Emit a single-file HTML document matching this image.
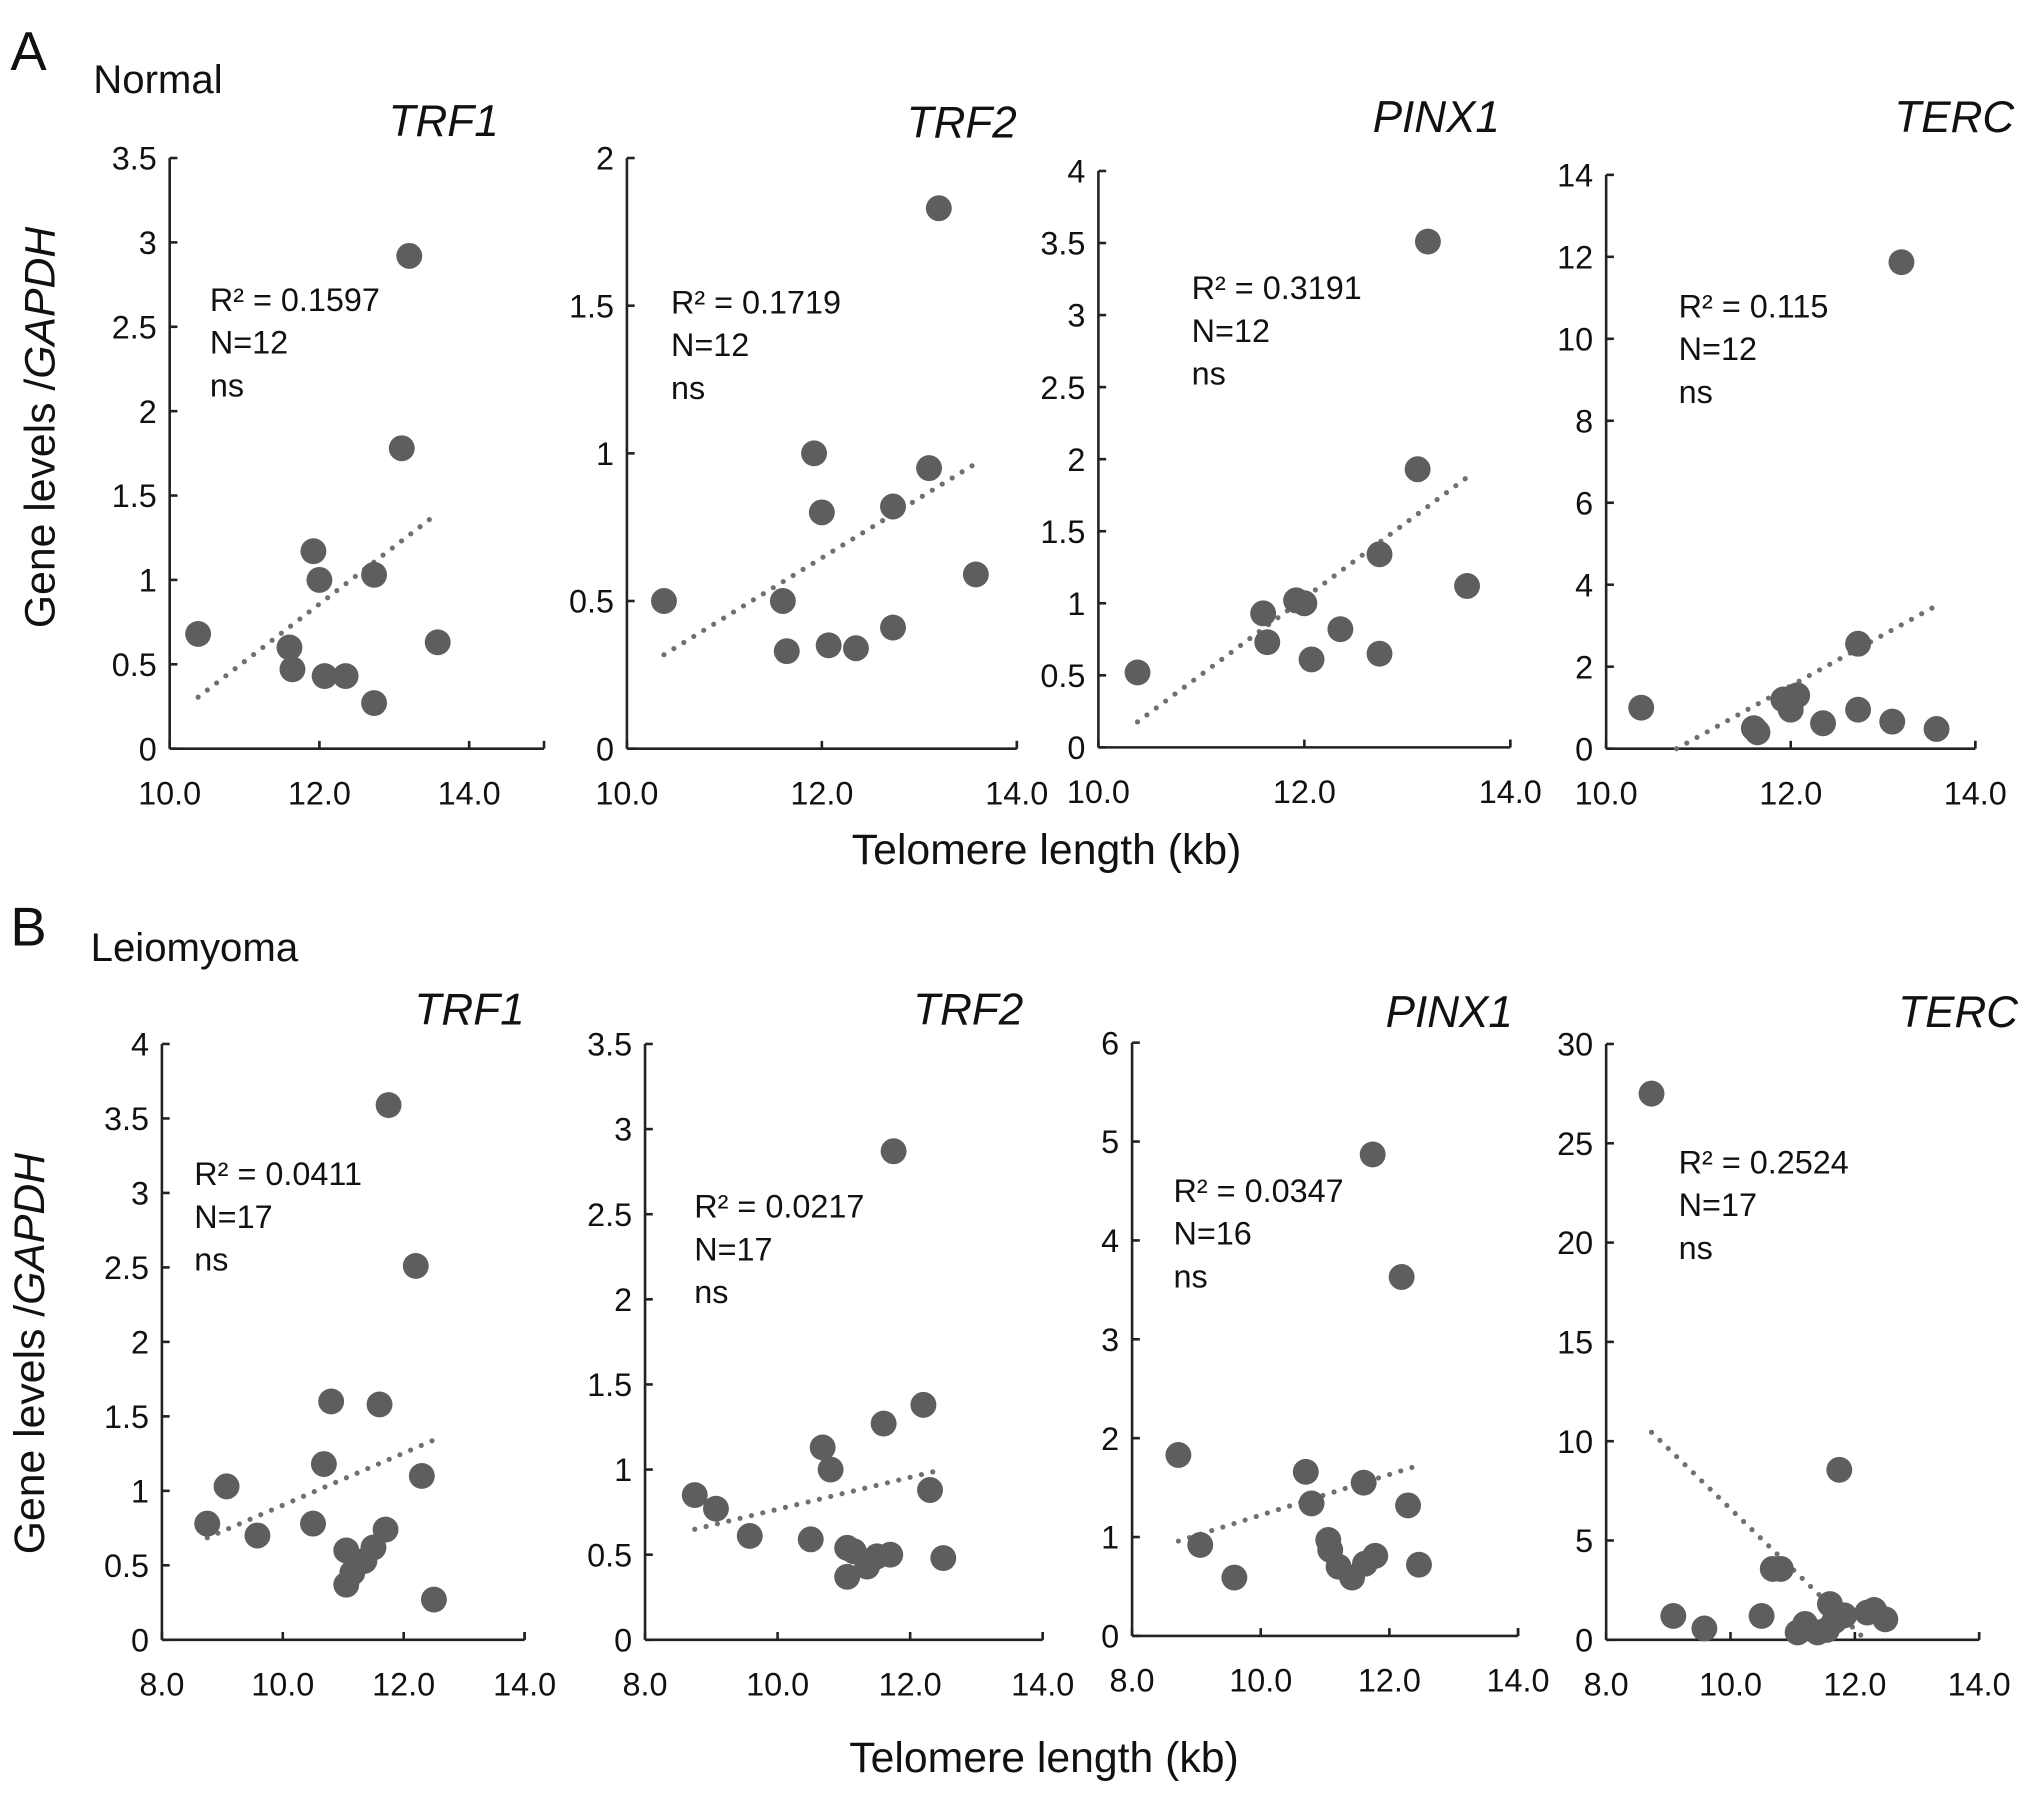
<!DOCTYPE html>
<html><head><meta charset="utf-8"><style>
html,body{margin:0;padding:0;background:#fff;}
svg{display:block;font-family:"Liberation Sans",Arial,sans-serif;}
</style></head><body>
<svg id="fig" width="2031" height="1796" viewBox="0 0 1568 1386.6" preserveAspectRatio="none" xmlns="http://www.w3.org/2000/svg">
<text x="8" y="54" font-size="42" fill="#111">A</text>
<text x="72" y="72" font-size="31" fill="#111">Normal</text>
<text x="8" y="730" font-size="42" fill="#111">B</text>
<text x="70" y="742" font-size="31" fill="#111">Leiomyoma</text>
<text transform="translate(42,330) rotate(-90)" text-anchor="middle" font-size="33" fill="#111">Gene levels /<tspan font-style="italic">GAPDH</tspan></text>
<text transform="translate(34,1045) rotate(-90)" text-anchor="middle" font-size="33" fill="#111">Gene levels /<tspan font-style="italic">GAPDH</tspan></text>
<text x="808" y="667" text-anchor="middle" font-size="33" fill="#111">Telomere length (kb)</text>
<text x="806" y="1368" text-anchor="middle" font-size="33" fill="#111">Telomere length (kb)</text>
</svg>
<script>
// ---- Data (Normal, N=12) ----
const xNormal = [10.38, 11.6, 11.64, 11.92, 12.0, 12.07, 12.35, 12.73, 12.73, 13.1, 13.2, 13.58];
const yA_TRF1 = [0.68, 0.6, 0.47, 1.17, 1.0, 0.43, 0.43, 1.03, 0.27, 1.78, 2.92, 0.63];
const yA_TRF2 = [0.5, 0.5, 0.33, 1.0, 0.8, 0.35, 0.34, 0.41, 0.82, 0.95, 1.83, 0.59];
const yA_PINX1 = [0.52, 0.93, 0.73, 1.02, 1.0, 0.61, 0.82, 1.34, 0.65, 1.93, 3.51, 1.12];
const yA_TERC = [1.0, 0.5, 0.4, 1.2, 0.95, 1.3, 0.62, 2.56, 0.95, 0.66, 11.87, 0.48];
// ---- Data (Leiomyoma) ----
const xLeio = [8.75, 9.07, 9.58, 10.5, 10.68, 10.8, 11.05, 11.05, 11.15, 11.35, 11.5, 11.7, 11.6, 11.75, 12.2, 12.3, 12.5];
const yB_TRF1 = [0.78, 1.03, 0.70, 0.78, 1.18, 1.6, 0.6, 0.37, 0.45, 0.53, 0.62, 0.74, 1.58, 3.59, 2.51, 1.1, 0.27];
const yB_TRF2 = [0.85, 0.77, 0.61, 0.59, 1.13, 1.0, 0.37, 0.54, 0.52, 0.43, 0.49, 0.50, 1.27, 2.87, 1.38, 0.88, 0.48];
const xB_PINX1 = [8.72, 9.06, 9.59, 10.7, 10.79, 11.05, 11.08, 11.21, 11.42, 11.6, 11.62, 11.78, 11.74, 12.19, 12.29, 12.46];
const yB_PINX1 = [1.83, 0.92, 0.59, 1.66, 1.34, 0.97, 0.87, 0.7, 0.59, 1.55, 0.73, 0.81, 4.87, 3.63, 1.32, 0.72];
const xB_TERC = [8.73, 9.08, 9.58, 10.5, 10.68, 10.81, 11.08, 11.2, 11.4, 11.6, 11.67, 11.75, 11.83, 12.2, 12.31, 12.49, 11.55];
const yB_TERC = [27.5, 1.2, 0.57, 1.2, 3.57, 3.57, 0.37, 0.8, 0.37, 1.8, 0.94, 8.56, 1.23, 1.37, 1.5, 1.03, 0.5];
// tick labels
const xTicksA = ["10.0", "12.0", "14.0"];
const xTicksB = ["8.0", "10.0", "12.0", "14.0"];

const NS = "http://www.w3.org/2000/svg";
const svg = document.getElementById("fig");
function mk(tag, attrs, parent) {
  const e = document.createElementNS(NS, tag);
  for (const k in attrs) e.setAttribute(k, attrs[k]);
  (parent || svg).appendChild(e);
  return e;
}

const panels = [
  {id:"a-trf1", title:"TRF1", xs:xNormal, ys:yA_TRF1, ax:131, y0:578, yt:122, ymax:3.5, ystep:0.5, xmin:10, xmax:15, xend:420, xlab:xTicksA, tx:385, ty:105, ann:["R² = 0.1597","N=12","ns"], annx:162, anny:240},
  {id:"a-trf2", title:"TRF2", xs:xNormal, ys:yA_TRF2, ax:484, y0:578, yt:122, ymax:2, ystep:0.5, xmin:10, xmax:14, xend:785, xlab:xTicksA, tx:785, ty:106, ann:["R² = 0.1719","N=12","ns"], annx:518, anny:242},
  {id:"a-pinx1", title:"PINX1", xs:xNormal, ys:yA_PINX1, ax:848, y0:577, yt:132, ymax:4, ystep:0.5, xmin:10, xmax:14, xend:1166, xlab:xTicksA, tx:1158, ty:102, ann:["R² = 0.3191","N=12","ns"], annx:920, anny:231},
  {id:"a-terc", title:"TERC", xs:xNormal, ys:yA_TERC, ax:1240, y0:578, yt:135, ymax:14, ystep:2, xmin:10, xmax:14, xend:1525, xlab:xTicksA, tx:1555, ty:102, ann:["R² = 0.115","N=12","ns"], annx:1296, anny:245},
  {id:"b-trf1", title:"TRF1", xs:xLeio, ys:yB_TRF1, ax:125, y0:1266, yt:806, ymax:4, ystep:0.5, xmin:8, xmax:14, xend:405, xlab:xTicksB, tx:405, ty:791, ann:["R² = 0.0411","N=17","ns"], annx:150, anny:915},
  {id:"b-trf2", title:"TRF2", xs:xLeio, ys:yB_TRF2, ax:498, y0:1266, yt:806, ymax:3.5, ystep:0.5, xmin:8, xmax:14, xend:805, xlab:xTicksB, tx:790, ty:791, ann:["R² = 0.0217","N=17","ns"], annx:536, anny:940},
  {id:"b-pinx1", title:"PINX1", xs:xB_PINX1, ys:yB_PINX1, ax:874, y0:1263, yt:805, ymax:6, ystep:1, xmin:8, xmax:14, xend:1172, xlab:xTicksB, tx:1168, ty:793, ann:["R² = 0.0347","N=16","ns"], annx:906, anny:928},
  {id:"b-terc", title:"TERC", xs:xB_TERC, ys:yB_TERC, ax:1240, y0:1266, yt:806, ymax:30, ystep:5, xmin:8, xmax:14, xend:1528, xlab:xTicksB, tx:1558, ty:793, ann:["R² = 0.2524","N=17","ns"], annx:1296, anny:906}
];

panels.forEach(p => {
  const g = mk("g", {});
  
  
  const X = v => p.ax + (v - p.xmin) / (p.xmax - p.xmin) * (p.xend - p.ax);
  const Y = v => p.y0 - v / p.ymax * (p.y0 - p.yt);
  const ya = mk("line", {x1:p.ax, y1:p.yt, x2:p.ax, y2:p.y0, stroke:"#222", "stroke-width":2}, g);
  
  
  const xa = mk("line", {x1:p.ax, y1:p.y0, x2:p.xend, y2:p.y0, stroke:"#222", "stroke-width":2}, g);
  
  
  const n = Math.round(p.ymax / p.ystep);
  for (let i = 0; i <= n; i++) {
    const v = i * p.ystep, yy = Y(v);
    mk("line", {x1:p.ax, y1:yy, x2:p.ax + 6, y2:yy, stroke:"#222", "stroke-width":2}, g);
    const t = mk("text", {x:p.ax - 10, y:yy + 9, "text-anchor":"end", "font-size":25, fill:"#111"}, g);
    t.textContent = String(Math.round(v * 10) / 10);
    
    
  }
  p.xlab.forEach(lab => {
    const v = parseFloat(lab), xx = X(v);
    mk("line", {x1:xx, y1:p.y0, x2:xx, y2:p.y0 - 6, stroke:"#222", "stroke-width":2}, g);
    const t = mk("text", {x:xx, y:p.y0 + 43, "text-anchor":"middle", "font-size":25, fill:"#111"}, g);
    t.textContent = lab;
    
    
  });
  mk("line", {x1:p.xend, y1:p.y0, x2:p.xend, y2:p.y0 - 6, stroke:"#222", "stroke-width":2}, g);
  const ti = mk("text", {x:p.tx, y:p.ty, "text-anchor":"end", "font-size":34, "font-style":"italic", fill:"#111"}, g);
  ti.textContent = p.title;
  
  
  p.ann.forEach((s, i) => {
    const t = mk("text", {x:p.annx, y:p.anny + i * 33, "font-size":25, fill:"#111"}, g);
    t.textContent = s;
    
    
  });
  const m = p.xs.length;
  const mx = p.xs.reduce((a, b) => a + b, 0) / m, my = p.ys.reduce((a, b) => a + b, 0) / m;
  let sxy = 0, sxx = 0;
  for (let i = 0; i < m; i++) { sxy += (p.xs[i] - mx) * (p.ys[i] - my); sxx += (p.xs[i] - mx) ** 2; }
  const b = sxy / sxx, a = my - b * mx;
  let x1 = Math.min(...p.xs), x2 = Math.max(...p.xs);
  if (a + b * x1 < 0) x1 = -a / b;
  if (a + b * x2 < 0) x2 = -a / b;
  const tl = mk("line", {x1:X(x1), y1:Y(a + b * x1), x2:X(x2), y2:Y(a + b * x2), stroke:"#707070", "stroke-width":4, "stroke-dasharray":"0 9", "stroke-linecap":"round"}, g);
  
  
  for (let i = 0; i < m; i++) {
    const c = mk("circle", {cx:X(p.xs[i]), cy:Y(p.ys[i]), r:10, fill:"#5e5e5e"}, g);
    
    
  }
});
</script>
</body></html>
